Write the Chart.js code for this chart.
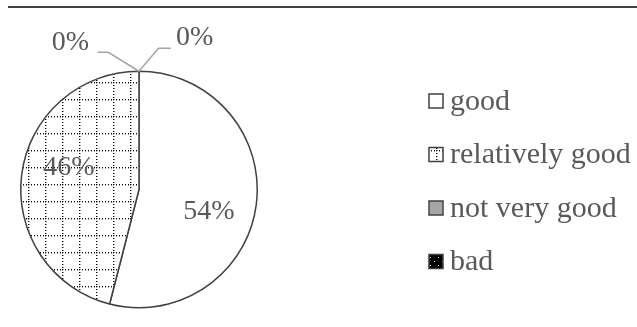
<!DOCTYPE html>
<html>
<head>
<meta charset="utf-8">
<script src="https://cdn.jsdelivr.net/npm/chart.js@4.4.1/dist/chart.umd.min.js"></script>
<style>
  html, body { margin: 0; padding: 0; background: #fff; }
  #wrap { width: 637px; height: 327px; position: relative; }
</style>
</head>
<body>
<div id="wrap"><canvas id="pie"></canvas></div>
<script>
'use strict';

// ── DATA ────────────────────────────────────────────────────────────────────
const CATEGORIES = ['good', 'relatively good', 'not very good', 'bad'];
const VALUES     = [54, 46, 0, 0];
const PCT_LABELS = ['54%', '46%', '0%', '0%'];

const FONT = '"Liberation Serif", "Times New Roman", serif';
const TEXT = '#595959';
const EDGE = '#404040';

// ── FILL PATTERNS ───────────────────────────────────────────────────────────
function gridPattern() {
  const c = document.createElement('canvas');
  c.width = 17; c.height = 17;
  const g = c.getContext('2d');
  g.fillStyle = '#fff';
  g.fillRect(0, 0, 17, 17);
  for (let i = 0; i < 17; i += 3) {
    g.fillStyle = '#000';
    g.fillRect(0, i, 1, 1);
    g.fillRect(i, 0, 1, 1);
    g.fillStyle = '#999';
    g.fillRect(1, i, 1, 1);
    g.fillRect(i, 1, 1, 1);
  }
  const p = g.createPattern(c, 'repeat');
  p.setTransform(new DOMMatrix().translate(11, 14));
  return p;
}

function speckPattern() {
  const c = document.createElement('canvas');
  c.width = 8; c.height = 8;
  const g = c.getContext('2d');
  g.fillStyle = '#000';
  g.fillRect(0, 0, 8, 8);
  g.fillStyle = '#fff';
  g.fillRect(2, 5, 1, 1);
  g.fillRect(6, 1, 1, 1);
  return g.createPattern(c, 'repeat');
}

const FILLS = ['#ffffff', gridPattern(), '#a5a5a5', speckPattern()];

// ── PLUGINS ─────────────────────────────────────────────────────────────────
const topRule = {
  id: 'topRule',
  afterDraw(chart) {
    const ctx = chart.ctx;
    ctx.save();
    ctx.strokeStyle = EDGE;
    ctx.lineWidth = 2;
    ctx.beginPath();
    ctx.moveTo(8, 7);
    ctx.lineTo(chart.width, 7);
    ctx.stroke();
    ctx.restore();
  }
};

// zero slices get a label pulled out with a leader line
const ZERO_LEADERS = {
  2: { text: [-0.58, -0.245], path: [[-0.26, -0.16], [-0.35, -0.16]] },
  3: { text: [0.47, -0.28],   path: [[0.165, -0.195], [0.27, -0.195]] }
};

const sliceLabels = {
  id: 'sliceLabels',
  afterDatasetsDraw(chart) {
    const ctx = chart.ctx;
    const arcs = chart.getDatasetMeta(0).data;
    ctx.save();
    ctx.font = '28px ' + FONT;
    ctx.fillStyle = TEXT;
    ctx.textAlign = 'center';
    ctx.textBaseline = 'middle';
    arcs.forEach((arc, i) => {
      const { x, y, startAngle, endAngle, outerRadius: R } = arc.getProps(['x', 'y', 'startAngle', 'endAngle', 'outerRadius'], true);
      if (VALUES[i] > 0) {
        const a = (startAngle + endAngle) / 2 + Math.PI / 18;
        ctx.fillText(PCT_LABELS[i], x + 0.62 * R * Math.cos(a), y + 0.62 * R * Math.sin(a));
        return;
      }
      const lead = ZERO_LEADERS[i];
      const ax = x + R * Math.cos(endAngle), ay = y + R * Math.sin(endAngle);
      ctx.strokeStyle = '#a6a6a6';
      ctx.lineWidth = 1.5;
      ctx.beginPath();
      ctx.moveTo(ax, ay);
      lead.path.forEach(([dx, dy]) => ctx.lineTo(ax + dx * R, ay + dy * R));
      ctx.stroke();
      ctx.fillText(PCT_LABELS[i], ax + lead.text[0] * R, ay + lead.text[1] * R);
    });
    ctx.restore();
  }
};

const sideLegend = {
  id: 'sideLegend',
  afterDraw(chart) {
    const ctx = chart.ctx;
    const ds = chart.data.datasets[0];
    const left = 429, top = 101, step = 53.5, box = 14;
    ctx.save();
    ctx.font = '30px ' + FONT;
    ctx.textBaseline = 'middle';
    chart.data.labels.forEach((lab, i) => {
      const cy = top + i * step;
      ctx.fillStyle = ds.backgroundColor[i];
      ctx.fillRect(left, cy - box / 2, box, box);
      ctx.strokeStyle = EDGE;
      ctx.lineWidth = 1.5;
      ctx.strokeRect(left, cy - box / 2, box, box);
      ctx.fillStyle = TEXT;
      ctx.fillText(lab, left + box + 7, cy + 1);
    });
    ctx.restore();
  }
};

// ── CHART ───────────────────────────────────────────────────────────────────
new Chart(document.getElementById('pie'), {
  type: 'pie',
  data: {
    labels: CATEGORIES,
    datasets: [{
      data: VALUES,
      backgroundColor: FILLS,
      borderColor: EDGE,
      borderWidth: 1.5
    }]
  },
  options: {
    responsive: true,
    maintainAspectRatio: false,
    animation: false,
    layout: { padding: { left: 20, top: 70, right: 379, bottom: 18 } },
    plugins: {
      legend: { display: false },
      tooltip: { enabled: false }
    }
  },
  plugins: [topRule, sliceLabels, sideLegend]
});
</script>
</body>
</html>
